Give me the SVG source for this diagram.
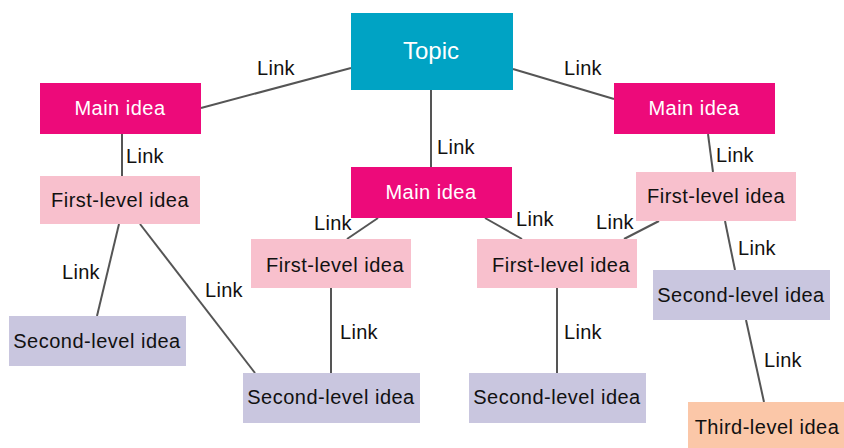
<svg xmlns="http://www.w3.org/2000/svg" width="844" height="448" viewBox="0 0 844 448">
<style>
text{font-family:"Liberation Sans",Arial,sans-serif;}
.topic{fill:#00A3C4;}
.main{fill:#ED0A7A;}
.first{fill:#F8C0CD;}
.second{fill:#C9C6DF;}
.third{fill:#FBC7A8;}
.t{font-size:20px;fill:#111;text-anchor:middle;letter-spacing:0.5px;}
.w{font-size:20px;fill:#fff;text-anchor:middle;letter-spacing:0.5px;}
.tw{font-size:24px;fill:#fff;text-anchor:middle;}
.lk{font-size:20px;fill:#111;letter-spacing:0.3px;}
.c line{stroke:#555;stroke-width:2;}
</style>
<g class="c" id="connectors">
<line x1="351" y1="68" x2="201" y2="108"/>
<line x1="513" y1="69" x2="614" y2="99"/>
<line x1="431" y1="90" x2="431" y2="167"/>
<line x1="122" y1="134" x2="122" y2="176"/>
<line x1="708" y1="134" x2="713" y2="172"/>
<line x1="119" y1="224" x2="97" y2="316"/>
<line x1="140" y1="224" x2="255" y2="373"/>
<line x1="378" y1="218" x2="347" y2="239"/>
<line x1="485" y1="218" x2="522" y2="239"/>
<line x1="659" y1="221" x2="624" y2="239"/>
<line x1="725" y1="221" x2="735" y2="270"/>
<line x1="331" y1="288" x2="331" y2="373"/>
<line x1="557" y1="288" x2="557" y2="373"/>
<line x1="746" y1="320" x2="764" y2="402"/>
<text class="lk" x="257" y="75">Link</text>
<text class="lk" x="564" y="75">Link</text>
<text class="lk" x="437" y="154">Link</text>
<text class="lk" x="126" y="163">Link</text>
<text class="lk" x="716" y="162">Link</text>
<text class="lk" x="62" y="279">Link</text>
<text class="lk" x="205" y="297">Link</text>
<text class="lk" x="314" y="230">Link</text>
<text class="lk" x="516" y="226">Link</text>
<text class="lk" x="596" y="229">Link</text>
<text class="lk" x="340" y="339">Link</text>
<text class="lk" x="564" y="339">Link</text>
<text class="lk" x="738" y="255">Link</text>
<text class="lk" x="764" y="367">Link</text>
</g>
<g id="topic"><rect class="topic" x="351" y="13" width="162" height="77"/><text class="tw" x="431" y="59">Topic</text></g>
<g id="main-left"><rect class="main" x="40" y="83" width="161" height="51"/><text class="w" x="120" y="115">Main idea</text></g>
<g id="main-right"><rect class="main" x="614" y="83" width="161" height="51"/><text class="w" x="694" y="115">Main idea</text></g>
<g id="main-center"><rect class="main" x="351" y="167" width="161" height="51"/><text class="w" x="431" y="199">Main idea</text></g>
<g id="first-left"><rect class="first" x="40" y="176" width="160" height="48"/><text class="t" x="120" y="207">First-level idea</text></g>
<g id="first-right"><rect class="first" x="636" y="172" width="160" height="49"/><text class="t" x="716" y="203">First-level idea</text></g>
<g id="first-midleft"><rect class="first" x="251" y="239" width="160" height="49"/><text class="t" x="335" y="272">First-level idea</text></g>
<g id="first-midright"><rect class="first" x="477" y="239" width="160" height="49"/><text class="t" x="561" y="272">First-level idea</text></g>
<g id="second-left"><rect class="second" x="9" y="316" width="177" height="50"/><text class="t" x="97" y="348">Second-level idea</text></g>
<g id="second-midleft"><rect class="second" x="243" y="373" width="177" height="50"/><text class="t" x="331" y="404">Second-level idea</text></g>
<g id="second-midright"><rect class="second" x="469" y="373" width="177" height="50"/><text class="t" x="557" y="404">Second-level idea</text></g>
<g id="second-right"><rect class="second" x="653" y="270" width="177" height="50"/><text class="t" x="741" y="302">Second-level idea</text></g>
<g id="third"><rect class="third" x="688" y="402" width="160" height="50"/><text class="t" x="767" y="434">Third-level idea</text></g>
</svg>
